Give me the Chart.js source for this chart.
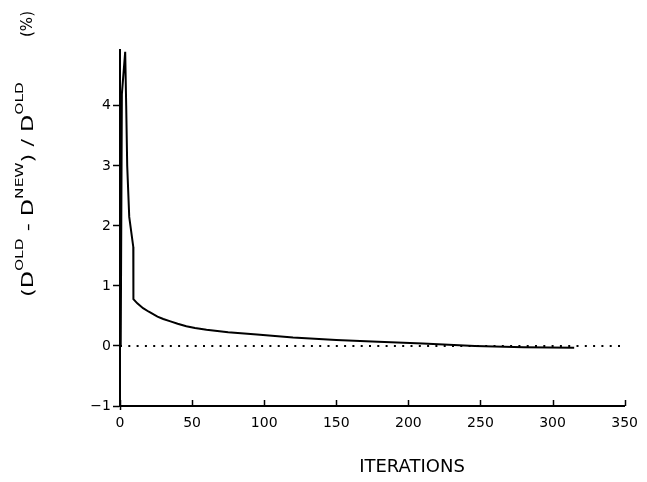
<!DOCTYPE html>
<html>
<head>
<meta charset="utf-8">
<script src="https://cdn.jsdelivr.net/npm/chart.js@4.4.1/dist/chart.umd.min.js"></script>
<style>
  html, body { margin: 0; padding: 0; background: #fff; }
  #wrap { width: 647px; height: 482px; }
</style>
</head>
<body>
<div id="wrap"><canvas id="convChart" width="647" height="482"></canvas></div>
<script>
// curve: relative change (%) per iteration
const iterations = [0.5, 1.3, 3.6, 4.3, 5.0, 6.4, 9.2, 9.3, 12, 16, 20, 26, 30, 35, 40, 46, 52, 60, 75, 95, 120, 150, 179, 210, 246, 280, 315];
const change =     [0.0, 4.2, 4.9, 4.0, 3.0, 2.15, 1.65, 0.78, 0.71, 0.63, 0.57, 0.49, 0.45, 0.41, 0.37, 0.33, 0.30, 0.27, 0.23, 0.19, 0.14, 0.10, 0.07, 0.04, 0.0, -0.02, -0.03];

// dotted reference line at zero
const zeroX = [0, 350];
const zeroY = [0, 0];

const xTicks = [0, 50, 100, 150, 200, 250, 300, 350];
const yTicks = [-1, 0, 1, 2, 3, 4];

const FONT = "'DejaVu Sans', sans-serif";

// x ticks in the original point up into the plot, draw them here
const innerTicks = {
    id: 'innerTicks',
    afterDraw(chart) {
        const ctx = chart.ctx;
        const xs = chart.scales.x;
        const bottom = chart.chartArea.bottom;
        ctx.save();
        ctx.strokeStyle = '#000';
        ctx.lineWidth = 1.5;
        xTicks.forEach(function (v) {
            const px = Math.round(xs.getPixelForValue(v)) + 0.5;
            ctx.beginPath();
            ctx.moveTo(px, bottom + (v === 0 ? 4 : 0));
            ctx.lineTo(px, bottom - 6);
            ctx.stroke();
        });
        ctx.restore();
    }
};

// axis titles (y title has superscripts, so it is drawn by hand)
const axisTitles = {
    id: 'axisTitles',
    afterDraw(chart) {
        const ctx = chart.ctx;
        ctx.save();
        ctx.fillStyle = '#000';
        ctx.textBaseline = 'alphabetic';

        ctx.font = '18px ' + FONT;
        ctx.textAlign = 'center';
        ctx.fillText('ITERATIONS', 412, 472);

        // rotated title, runs bottom to top
        const parts = [
            ['(D', 16, 0], ['OLD', 11, -10], [' - D', 16, 0], ['NEW', 11, -10],
            [') / D', 16, 0], ['OLD', 11, -10]
        ];
        ctx.translate(33, 297);
        ctx.rotate(-Math.PI / 2);
        ctx.scale(1.4, 1);
        ctx.textAlign = 'left';
        let x = 0;
        parts.forEach(function (p) {
            ctx.font = p[1] + 'px ' + FONT;
            ctx.fillText(p[0], x, p[2]);
            x += ctx.measureText(p[0]).width;
        });
        ctx.restore();

        ctx.save();
        ctx.fillStyle = '#000';
        ctx.translate(32, 24);
        ctx.rotate(-Math.PI / 2);
        ctx.font = '15px ' + FONT;
        ctx.textAlign = 'center';
        ctx.fillText('(%)', 0, 0);
        ctx.restore();
    }
};

const ctx = document.getElementById('convChart').getContext('2d');
const convChart = new Chart(ctx, {
    type: 'line',
    data: {
        datasets: [{
            label: 'change',
            data: iterations.map(function (it, i) { return { x: it, y: change[i] }; }),
            borderColor: '#000',
            borderWidth: 2,
            pointRadius: 0,
            tension: 0,
            fill: false
        }, {
            label: 'zero',
            data: zeroX.map(function (v, i) { return { x: v, y: zeroY[i] }; }),
            borderColor: '#000',
            borderWidth: 2,
            borderDash: [2, 6.3],
            pointRadius: 0,
            fill: false
        }]
    },
    options: {
        responsive: false,
        animation: false,
        events: [],
        layout: {
            padding: { left: 0, right: 19, top: 50, bottom: 0 }
        },
        plugins: {
            legend: { display: false },
            tooltip: { enabled: false }
        },
        scales: {
            x: {
                type: 'linear',
                min: 0,
                max: 350,
                afterFit: function (scale) { scale.height = 76; },
                afterBuildTicks: function (scale) {
                    scale.ticks = xTicks.map(function (v) { return { value: v }; });
                },
                border: { display: true, color: '#000', width: 2 },
                grid: { display: true, drawOnChartArea: false, drawTicks: false },
                ticks: {
                    color: '#000',
                    font: { family: FONT, size: 14 },
                    padding: 9,
                    maxRotation: 0
                }
            },
            y: {
                min: -1,
                max: 4.93,
                afterFit: function (scale) { scale.width = 120; },
                afterBuildTicks: function (scale) {
                    scale.ticks = yTicks.map(function (v) { return { value: v }; });
                },
                border: { display: true, color: '#000', width: 2 },
                grid: {
                    display: true,
                    drawOnChartArea: false,
                    drawTicks: true,
                    tickLength: 7,
                    tickWidth: 1.5,
                    tickColor: '#000'
                },
                ticks: {
                    color: '#000',
                    font: { family: FONT, size: 14 },
                    padding: 2,
                    callback: function (v) { return v < 0 ? '\u2212' + Math.abs(v) : String(v); }
                }
            }
        }
    },
    plugins: [innerTicks, axisTitles]
});
</script>
</body>
</html>
